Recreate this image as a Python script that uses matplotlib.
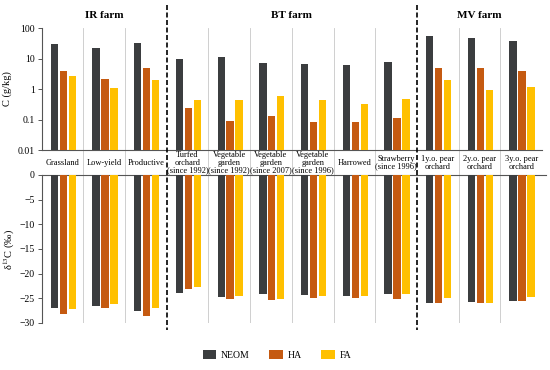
import matplotlib
matplotlib.use("Agg")
import matplotlib.pyplot as plt
import matplotlib.transforms as mtransforms
from matplotlib.patches import Patch
import numpy as np

# data
sites = ["Grassland", "Low-yield", "Productive",
         "Turfed\norchard\n(since 1992)", "Vegetable\ngarden\n(since 1992)",
         "Vegetable\ngarden\n(since 2007)", "Vegetable\ngarden\n(since 1996)",
         "Harrowed", "Strawberry\n(since 1996)",
         "1y.o. pear\norchard", "2y.o. pear\norchard", "3y.o. pear\norchard"]
farms = ["IR farm", "BT farm", "MV farm"]
farm_span = [(0, 2), (3, 8), (9, 11)]
series = ["NEOM", "HA", "FA"]

c_neom = [30, 22.6, 32, 9.3, 11.5, 7.3, 6.8, 6.3, 7.7, 53, 48, 38]
c_ha = [3.9, 2.1, 4.9, 0.24, 0.09, 0.13, 0.08, 0.08, 0.11, 4.9, 4.8, 3.9]
c_fa = [2.6, 1.1, 2.0, 0.44, 0.43, 0.6, 0.44, 0.33, 0.46, 1.9, 0.93, 1.2]

d13_neom = [-27.0, -26.5, -27.6, -24.0, -24.7, -24.1, -24.4, -24.6, -24.1, -25.9, -25.7, -25.6]
d13_ha = [-28.2, -26.9, -28.6, -23.2, -25.2, -25.3, -24.9, -25.0, -25.2, -26.0, -25.9, -25.6]
d13_fa = [-27.2, -26.1, -26.9, -22.8, -24.5, -25.2, -24.5, -24.5, -24.2, -24.9, -26.0, -24.7]

COLORS = {"NEOM": "#3b3d3f", "HA": "#c55a11", "FA": "#ffc000"}
SERIF = ["Liberation Serif", "DejaVu Serif"]
plt.rcParams["font.family"] = SERIF
plt.rcParams["mathtext.fontset"] = "stix"
plt.rcParams["axes.unicode_minus"] = True

W, H = 550, 370
fig = plt.figure(figsize=(W / 100, H / 100), dpi=100)
x0, x1 = 41.7, 542
top_y0, top_y1 = 28, 150
bot_y0, bot_y1 = 175, 323
ax_top = fig.add_axes([x0 / W, 1 - top_y1 / H, (x1 - x0) / W, (top_y1 - top_y0) / H])
ax_bot = fig.add_axes([x0 / W, 1 - bot_y1 / H, (x1 - x0) / W, (bot_y1 - bot_y0) / H])

x = np.arange(len(sites))
w, off = 0.175, 0.215
shift = 0.02
spine_c = "#555555"

for ax, vals in [(ax_top, [c_neom, c_ha, c_fa]), (ax_bot, [d13_neom, d13_ha, d13_fa])]:
    ax.patch.set_alpha(0)
    for i, (name, v) in enumerate(zip(series, vals)):
        ax.bar(x + (i - 1) * off + shift, v, w, color=COLORS[name], zorder=3)
    ax.set_xlim(-0.5, len(sites) - 0.5)
    ax.set_xticks([])
    ax.spines["right"].set_visible(False)
    for s in ax.spines.values():
        s.set_color(spine_c)
        s.set_linewidth(0.8)
    ax.tick_params(axis="y", direction="out", length=3, width=0.7, color=spine_c,
                   labelsize=7, pad=2)

# top: log scale carbon content
ax_top.set_yscale("log")
ax_top.set_ylim(0.01, 100)
ax_top.set_yticks([0.01, 0.1, 1, 10, 100], ["0.01", "0.1", "1", "10", "100"])
ax_top.minorticks_off()
ax_top.spines["top"].set_visible(False)
ax_top.set_ylabel("C (g/kg)", fontsize=7.5, labelpad=4)

# bottom: delta 13C
ax_bot.set_ylim(-30, 0)
ax_bot.set_yticks(range(-30, 1, 5))
ax_bot.spines["bottom"].set_visible(False)
ax_bot.spines["top"].set_bounds(-0.5, len(sites) - 0.4)
ax_bot.set_ylabel("δ$^{13}$C (‰)", fontsize=7.5, labelpad=2)

# separators between sites
band = (bot_y0 - top_y1) / (top_y1 - top_y0)
dashed = [2.5, 8.5]
for b in np.arange(0.5, len(sites) - 1, 1.0):
    if b in dashed:
        continue
    ax_top.axvline(b, ymin=-band, ymax=1, color="#c8c8c8", lw=0.6, clip_on=False, zorder=1)
    ax_bot.axvline(b, color="#c8c8c8", lw=0.6, zorder=1)

trans = mtransforms.blended_transform_factory(ax_top.transData, fig.transFigure)
for b in dashed:
    ax_bot.plot([b, b], [1 - 5 / H, 1 - 330 / H], transform=trans, color="black",
                lw=1.2, ls=(0, (3, 1.5)), clip_on=False, zorder=5)

# site labels in the band between panels
tband = mtransforms.blended_transform_factory(ax_top.transData, ax_top.transAxes)
for i, s in enumerate(sites):
    ax_top.text(i, -band / 2, s, transform=tband, ha="center", va="center",
                fontsize=6.0, linespacing=1.0)

# farm titles
for f, (a, b) in zip(farms, farm_span):
    ax_top.text((a + b) / 2, 1 - 15 / H, f, transform=trans, ha="center", va="center",
                fontsize=8, fontweight="bold")

handles = [Patch(facecolor=COLORS[n], label=n) for n in series]
fig.legend(handles=handles, loc="center", bbox_to_anchor=(277 / W, 1 - 355 / H), ncol=3,
           frameon=False, fontsize=7, handlelength=1.4, handleheight=1.1,
           columnspacing=2.0, handletextpad=0.5)

fig.savefig("out.png", dpi=100)
